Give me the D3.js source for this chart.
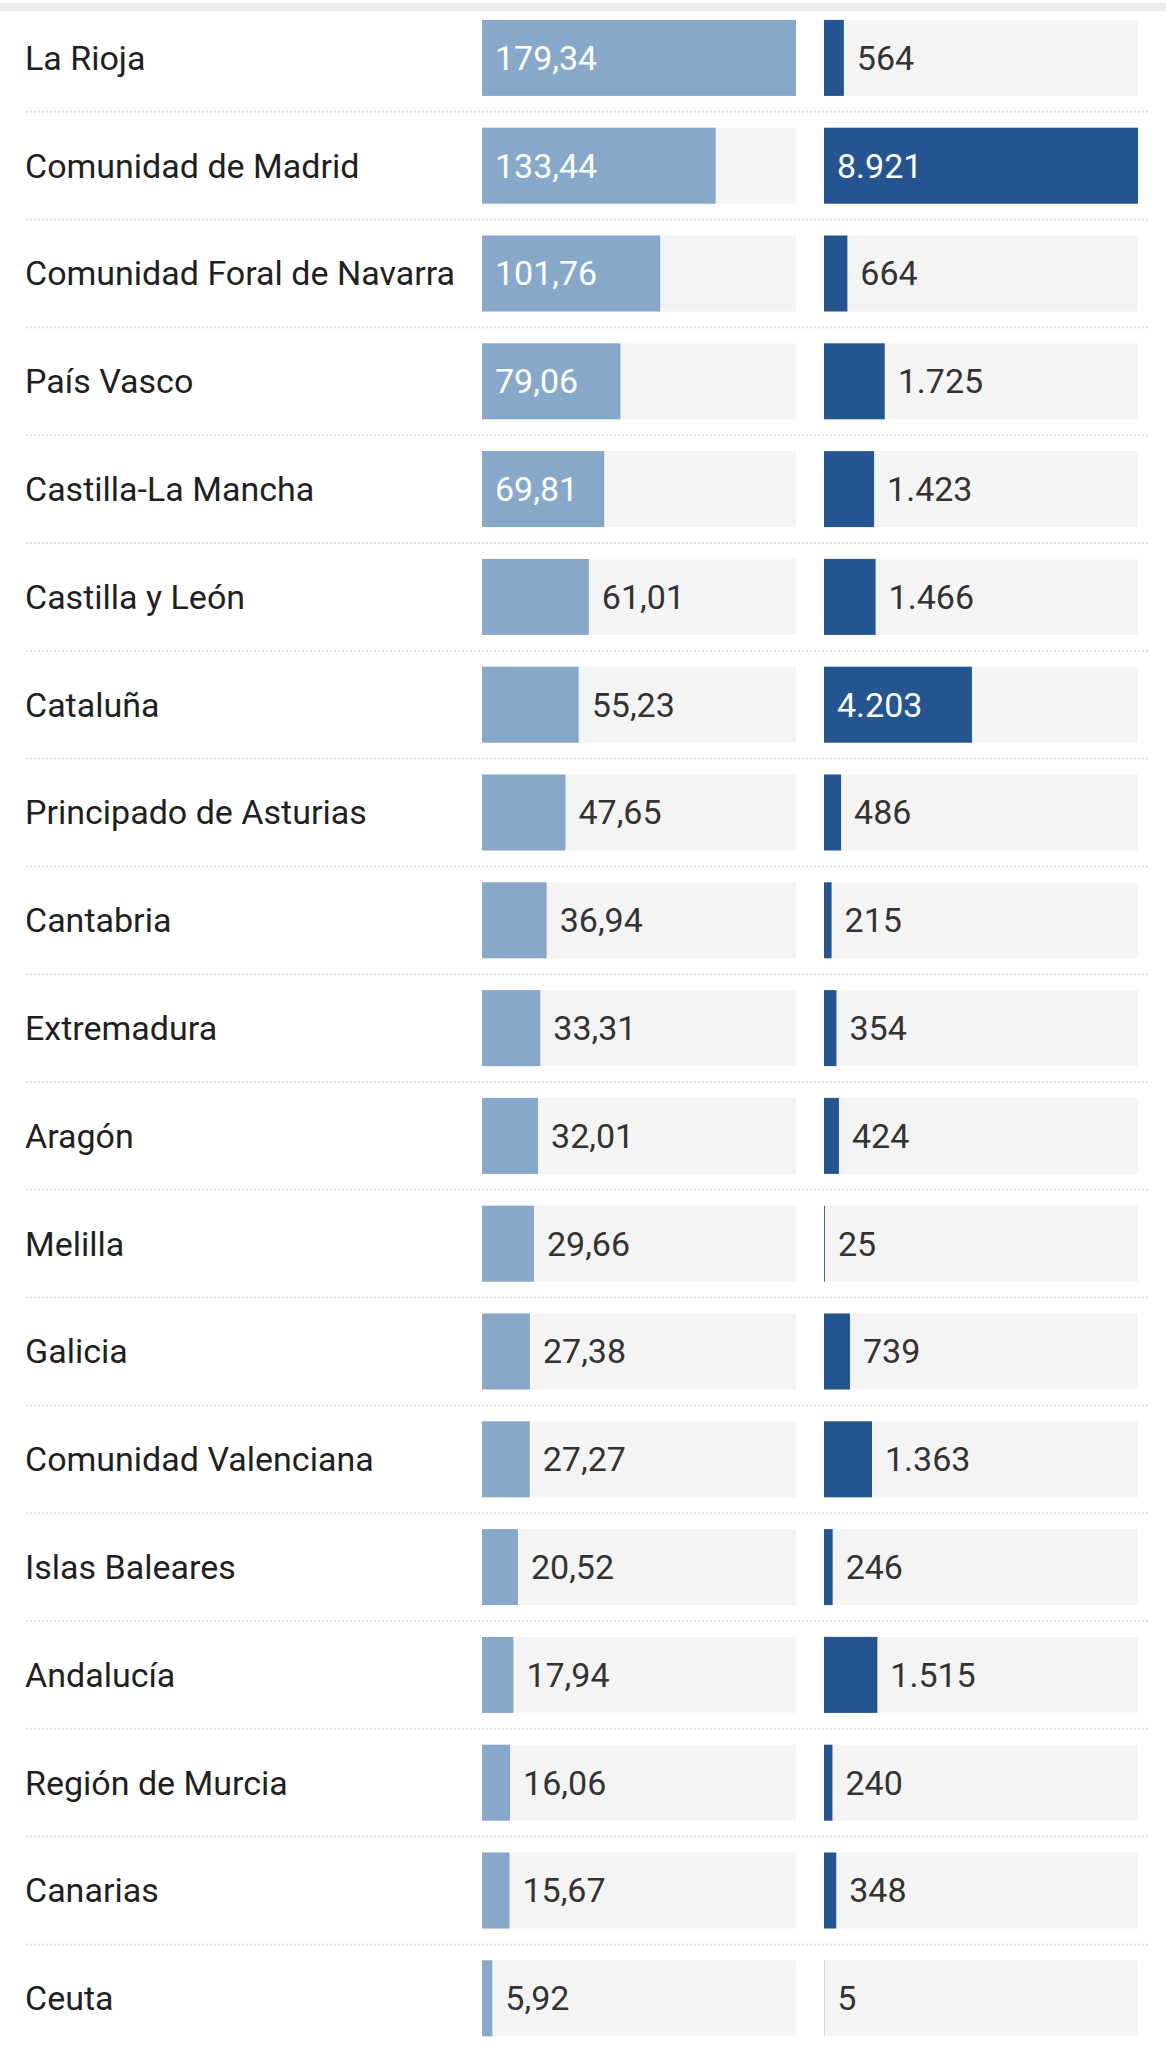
<!DOCTYPE html>
<html>
<head>
<meta charset="utf-8">
<script src="https://cdn.jsdelivr.net/npm/d3@7"></script>
<style>
  html, body { margin: 0; padding: 0; background: #fff; }
  svg { display: block; font-family: Roboto, "Noto Sans", sans-serif; }
</style>
</head>
<body>
<svg width="1166" height="2048"></svg>
<script>
// comunidades, ordered as in the graphic
const regions = [
  'La Rioja', 'Comunidad de Madrid', 'Comunidad Foral de Navarra', 'País Vasco',
  'Castilla-La Mancha', 'Castilla y León', 'Cataluña', 'Principado de Asturias',
  'Cantabria', 'Extremadura', 'Aragón', 'Melilla', 'Galicia',
  'Comunidad Valenciana', 'Islas Baleares', 'Andalucía', 'Región de Murcia',
  'Canarias', 'Ceuta'
];
// tasa (left column)
const rates = [
  179.34, 133.44, 101.76, 79.06, 69.81, 61.01, 55.23, 47.65, 36.94, 33.31,
  32.01, 29.66, 27.38, 27.27, 20.52, 17.94, 16.06, 15.67, 5.92
];
// casos (right column)
const cases = [
  564, 8921, 664, 1725, 1423, 1466, 4203, 486, 215, 354,
  424, 25, 739, 1363, 246, 1515, 240, 348, 5
];

const data = regions.map((name, i) => ({name, rate: rates[i], cases: cases[i]}));

const es = d3.formatLocale({decimal: ',', thousands: '.', grouping: [3], currency: ['', ' €']});
const fmtRate = es.format(',.2f');
const fmtCases = es.format(',d');

const svg = d3.select('svg');
const width = +svg.attr('width');

const pad = 13;
const fontSize = 34;

// top grey strip
svg.append('rect')
  .attr('x', 0).attr('y', 2.5)
  .attr('width', width).attr('height', 8.5)
  .attr('fill', '#ececec');

const yScale = d3.scaleBand()
  .domain(regions)
  .range([4, 4 + regions.length * 107.8])
  .paddingInner(0.295)
  .paddingOuter(0.1475);

const half = yScale.step() * yScale.paddingInner() / 2;

const xRate = d3.scaleLinear()
  .domain([0, d3.max(rates)])
  .range([482, 796]);

const xCases = d3.scaleLinear()
  .domain([0, d3.max(cases)])
  .range([824, 1138]);

// dotted separators
svg.append('g')
  .selectAll('line')
  .data(regions.slice(1))
  .join('line')
  .attr('x1', 26).attr('x2', 1149)
  .attr('y1', d => yScale(d) - half)
  .attr('y2', d => yScale(d) - half)
  .attr('stroke', '#d8d8d8')
  .attr('stroke-width', 2)
  .attr('stroke-dasharray', '1.6,2.4');

const rows = svg.append('g')
  .selectAll('g')
  .data(data)
  .join('g')
  .attr('transform', d => `translate(0,${yScale(d.name)})`);

const bh = yScale.bandwidth();
const baseline = bh / 2 + 12;

rows.append('text')
  .attr('x', 25)
  .attr('y', baseline)
  .attr('font-size', fontSize)
  .attr('fill', '#1f1f1f')
  .text(d => d.name);

function column(scale, key, fmt, color) {
  const x0 = scale.range()[0];
  rows.append('rect')
    .attr('x', x0).attr('y', 0)
    .attr('width', scale.range()[1] - x0)
    .attr('height', bh)
    .attr('fill', '#f4f4f4');

  rows.append('rect')
    .attr('x', x0).attr('y', 0)
    .attr('width', d => scale(d[key]) - x0)
    .attr('height', bh)
    .attr('fill', color);

  rows.append('text')
    .attr('y', baseline)
    .attr('font-size', fontSize)
    .text(d => fmt(d[key]))
    .each(function(d) {
      const w = scale(d[key]) - x0;
      const tw = this.getComputedTextLength();
      const inside = w > tw + 2 * pad;
      d3.select(this)
        .attr('x', inside ? x0 + pad : x0 + w + pad)
        .attr('fill', inside ? '#fff' : '#333');
    });
}

column(xRate, 'rate', fmtRate, '#87a8c8');
column(xCases, 'cases', fmtCases, '#245591');
</script>
</body>
</html>
